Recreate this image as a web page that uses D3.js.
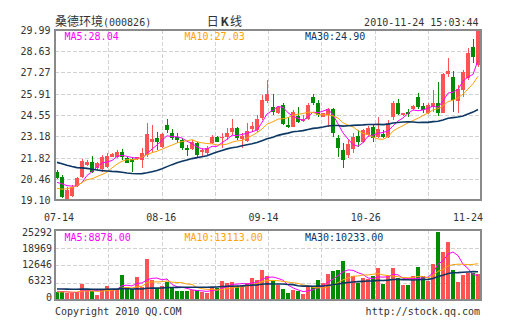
<!DOCTYPE html>
<html>
<head>
<meta charset="utf-8">
<script src="https://cdn.jsdelivr.net/npm/d3@7"></script>
<style>
  html, body { margin: 0; padding: 0; background: #fff; }
  svg { display: block; }
  text { font-family: "DejaVu Sans Mono", "Liberation Mono", monospace; font-size: 10px; fill: #333; }
  .cjk { font-family: "Noto Sans CJK SC", "DejaVu Sans", sans-serif; font-size: 12px; }
</style>
</head>
<body>
<svg id="chart" width="505" height="330"></svg>
<script>
// Daily sessions, 07-14 .. 11-24
const opens = [
  20.92, 20.60, 19.14, 19.38, 19.98, 20.55, 21.34, 21.56, 21.13, 21.09,
  21.24, 21.88, 21.88, 22.20, 21.81, 21.71, 21.71, 21.66, 21.98, 22.84,
  23.09, 22.52, 23.90, 23.41, 23.16, 22.94, 22.45, 22.37, 22.77, 22.20,
  22.13, 22.73, 23.12, 23.09, 23.12, 23.48, 23.73, 22.99, 22.90, 23.63,
  23.58, 24.33, 25.47, 25.04, 24.65, 25.19, 23.90, 23.80, 24.50, 24.18,
  24.27, 25.68, 25.29, 24.44, 24.55, 24.91, 23.05, 22.30, 21.98, 22.35,
  23.20, 22.84, 23.26, 23.76, 23.16, 23.31, 23.16, 24.44, 25.34, 24.55,
  24.72, 24.91, 25.68, 25.12, 24.70, 25.04, 25.34, 24.70, 27.15, 26.96,
  25.47, 26.15, 26.89, 28.92, 27.75
];
const highs = [
  21.02, 20.70, 19.95, 20.06, 20.55, 21.70, 21.64, 21.92, 21.56, 21.98,
  22.09, 22.09, 22.30, 22.35, 21.88, 21.83, 21.88, 22.41, 24.01, 23.90,
  23.48, 23.40, 24.29, 23.65, 23.37, 23.05, 22.62, 22.94, 22.84, 22.41,
  22.56, 23.26, 23.20, 23.37, 23.69, 24.27, 23.80, 23.37, 24.05, 24.12,
  24.55, 25.83, 26.79, 25.89, 25.10, 25.29, 24.44, 24.87, 25.04, 24.55,
  25.29, 25.89, 25.51, 24.70, 24.97, 24.97, 23.26, 22.73, 22.94, 23.37,
  23.58, 23.63, 23.84, 23.90, 24.44, 23.58, 24.22, 25.47, 25.55, 24.70,
  24.91, 25.17, 25.93, 25.29, 25.29, 26.15, 26.68, 27.21, 28.17, 27.36,
  26.47, 27.43, 28.81, 29.41, 29.99
];
const lows = [
  20.43, 19.21, 19.10, 19.31, 19.93, 20.49, 21.25, 20.81, 21.05, 20.92,
  21.13, 21.83, 21.77, 21.66, 21.45, 20.92, 21.66, 21.13, 21.88, 22.20,
  22.30, 22.45, 23.37, 22.94, 22.73, 22.30, 21.94, 22.30, 21.88, 21.88,
  21.92, 22.69, 22.79, 22.41, 22.94, 23.26, 22.94, 22.41, 22.84, 23.48,
  23.48, 24.22, 25.29, 24.55, 24.60, 23.91, 23.69, 23.75, 24.01, 24.12,
  24.22, 25.19, 24.44, 24.40, 23.80, 23.16, 21.88, 21.13, 21.77, 22.09,
  22.52, 22.73, 23.16, 22.84, 23.05, 23.05, 23.05, 24.22, 24.55, 24.50,
  24.44, 24.87, 24.91, 24.70, 24.61, 24.76, 24.48, 24.65, 27.00, 24.72,
  24.65, 25.72, 26.79, 27.85, 27.64
];
const closes = [
  20.49, 19.31, 19.74, 19.95, 20.49, 21.62, 21.56, 20.92, 21.45, 21.83,
  21.92, 22.03, 22.20, 21.83, 21.49, 21.56, 21.83, 22.13, 23.33, 22.99,
  22.84, 23.33, 23.58, 23.05, 22.94, 22.45, 22.30, 22.84, 21.98, 22.30,
  22.41, 23.16, 22.84, 23.14, 23.37, 23.73, 23.05, 23.20, 23.52, 23.84,
  24.29, 25.51, 25.89, 24.76, 25.04, 23.95, 23.80, 24.76, 24.12, 24.29,
  25.19, 25.29, 24.55, 24.65, 24.91, 23.36, 22.41, 21.66, 22.69, 23.12,
  22.84, 23.58, 23.69, 23.05, 23.68, 23.16, 24.01, 25.34, 24.61, 24.66,
  24.61, 25.12, 25.08, 24.87, 25.19, 25.34, 24.65, 27.17, 27.38, 25.51,
  26.19, 27.32, 28.49, 28.23, 29.99
];
const volumes = [
  2750, 3100, 2400, 2400, 2750, 5860, 3700, 3100, 1930, 3950,
  5150, 3950, 3950, 9070, 4550, 3950, 8360, 4800, 14790, 7290,
  4430, 5150, 6340, 4800, 3360, 3360, 3120, 3700, 3600, 2760,
  2400, 4800, 4190, 6930, 5980, 6340, 5150, 5380, 5980, 7880,
  7170, 10980, 8720, 6810, 5380, 3830, 2400, 3480, 3240, 2290,
  4910, 4550, 7290, 6100, 9310, 10410, 11010, 13990, 9580, 8630,
  6010, 8030, 7440, 8630, 11610, 5660, 8630, 11610, 8030, 5310,
  5310, 8630, 11850, 8630, 6860, 12950, 24610, 17470, 21040, 10670,
  6500, 9000, 9830, 9830, 9230
];
// Sessions before 07-14 that seed the moving averages (not drawn as bars)
const earlierCloses = [
  22.10, 22.50, 22.30, 22.60, 22.20, 22.50, 22.46, 22.90, 23.10, 22.70,
  22.80, 22.60, 23.00, 22.90, 22.50, 22.34, 22.00, 21.60, 21.00, 20.70,
  19.90, 19.40, 19.20, 19.50, 19.35, 19.80, 20.30, 20.10, 20.46
];
const earlierVolumes = [
  3900, 3500, 4200, 3300, 3800, 3600, 4100, 3400, 3700, 3900,
  3300, 3500, 3800, 5600, 6800, 7400, 5900, 6300, 5500, 5500,
  2900, 2500, 3100, 2400, 2600, 3300, 2900, 3400, 3150
];
const priceTicks = ["19.10", "20.46", "21.82", "23.18", "24.55", "25.91", "27.27", "28.63", "29.99"];
const volumeTicks = [0, 6323, 12646, 18969, 25292];
const dateLabels = ["07-14", "08-16", "09-14", "10-26", "11-24"];
const maPeriods = [5, 10, 30];
const maColors = ["#ff00ff", "#ffa20a", "#0c3764"];

const stockName = "桑德环境";
const stockCode = "(000826)";
const chartKind = ["日", "K", "线"];
const stamp = "2010-11-24 15:03:44";

const svg = d3.select("#chart");
const plot = { left: 55, right: 481, top: 30, bottom: 200 };
const vol = { top: 230, bottom: 300 };
const up = "#ff5252", down = "#008c00";
const n = closes.length;

const x = d3.scaleBand().domain(d3.range(n)).range([plot.left, plot.right]);
const y = d3.scaleLinear().domain([+priceTicks[0], +priceTicks[priceTicks.length - 1]]).range([plot.bottom, plot.top]);
const vy = d3.scaleLinear().domain([0, d3.max(volumeTicks)]).range([vol.bottom, vol.top]);
const vLabelY = d3.scaleLinear().domain(vy.domain()).range([vol.bottom + 0.7, vol.top + 5.5]);

const left = i => Math.round(x(i));
const center = i => left(i) + 2;

function movingAverage(earlier, values, period) {
  const all = earlier.concat(values);
  const off = earlier.length;
  return values.map((_, i) => d3.mean(all.slice(off + i - period + 1, off + i + 1)));
}

// dashed grid
function grid(top, bottom, hValues, yScale) {
  const g = svg.append("g").attr("stroke", "#d2d2d2").attr("stroke-dasharray", "4,2").attr("stroke-width", 1);
  const cols = d3.range(1, 8).map(k => Math.round(plot.left + (plot.right - plot.left) * k / 8) + 0.5);
  g.selectAll(null).data(cols).join("line")
    .attr("x1", d => d).attr("x2", d => d).attr("y1", top).attr("y2", bottom);
  g.selectAll(null).data(hValues).join("line")
    .attr("x1", plot.left).attr("x2", plot.right)
    .attr("y1", d => Math.round(yScale(d)) + 0.5).attr("y2", d => Math.round(yScale(d)) + 0.5);
}
grid(plot.top, plot.bottom, priceTicks.slice(1, -1).map(Number), y);
grid(vol.top, vol.bottom, volumeTicks.slice(1, -1), vy);

// candles
const isUp = i => closes[i] >= opens[i];
const cg = svg.append("g");
d3.range(n).forEach(i => {
  const col = isUp(i) ? up : down;
  const yh = Math.round(y(highs[i])), yl = Math.round(y(lows[i]));
  cg.append("rect").attr("x", left(i) + 2).attr("width", 1)
    .attr("y", yh).attr("height", Math.max(1, yl - yh)).attr("fill", col);
  const yt = Math.round(y(Math.max(opens[i], closes[i])));
  const yb = Math.round(y(Math.min(opens[i], closes[i])));
  cg.append("rect").attr("x", left(i)).attr("width", 4)
    .attr("y", yt).attr("height", Math.max(1, yb - yt)).attr("fill", col);
});

// volume bars
svg.append("g").selectAll("rect").data(volumes).join("rect")
  .attr("x", (d, i) => left(i)).attr("width", 4)
  .attr("y", d => Math.round(vy(d)))
  .attr("height", d => vol.bottom - Math.round(vy(d)))
  .attr("fill", (d, i) => isUp(i) ? up : down);

// moving-average lines
const priceMA = maPeriods.map(p => movingAverage(earlierCloses, closes, p));
const volMA = maPeriods.map(p => movingAverage(earlierVolumes, volumes, p));
maPeriods.forEach((p, k) => {
  svg.append("path").datum(priceMA[k])
    .attr("fill", "none").attr("stroke", maColors[k]).attr("stroke-width", k === 2 ? 1.6 : 1)
    .attr("d", d3.line().x((d, i) => center(i)).y(d => y(d)));
  svg.append("path").datum(volMA[k])
    .attr("fill", "none").attr("stroke", maColors[k]).attr("stroke-width", k === 2 ? 1.6 : 1)
    .attr("d", d3.line().x((d, i) => center(i)).y(d => vy(d)));
});

// frames
[[plot.top, plot.bottom], [vol.top, vol.bottom]].forEach(([t, b]) => {
  svg.append("rect").attr("x", plot.left).attr("y", t)
    .attr("width", plot.right - plot.left).attr("height", b - t)
    .attr("fill", "none").attr("stroke", "#8a8a8a").attr("stroke-width", 2);
});

// axis labels
svg.append("g").selectAll("text").data(priceTicks).join("text")
  .attr("x", 50.5).attr("y", d => y(+d) + 4).attr("text-anchor", "end").text(d => d);
svg.append("g").selectAll("text").data(volumeTicks).join("text")
  .attr("x", 52).attr("y", d => vLabelY(d)).attr("text-anchor", "end").text(d => d);
const labelX = d3.scaleLinear().domain([0, dateLabels.length - 1]).range([59, 468]);
svg.append("g").selectAll("text").data(dateLabels).join("text")
  .attr("x", (d, i) => labelX(i)).attr("y", 221).attr("text-anchor", "middle").text(d => d);

// MA legends
const legendX = [64.5, 184.5, 305];
maPeriods.forEach((p, k) => {
  svg.append("text").attr("x", legendX[k]).attr("y", 40).style("fill", maColors[k])
    .text(`MA${p}:${priceMA[k][n - 1].toFixed(2)}`);
  svg.append("text").attr("x", legendX[k]).attr("y", 240.5).style("fill", maColors[k])
    .text(`MA${p}:${volMA[k][n - 1].toFixed(2)}`);
});

// header
const title = svg.append("text").attr("x", 55).attr("y", 25.5);
title.append("tspan").attr("class", "cjk").text(stockName);
title.append("tspan").text(stockCode);
const kind = svg.append("text").attr("class", "cjk").attr("x", 224.5).attr("y", 25.5)
  .attr("text-anchor", "middle");
kind.append("tspan").text(chartKind[0]);
kind.append("tspan").attr("dx", 1.5).style("font-weight", "bold").text(chartKind[1]);
kind.append("tspan").attr("dx", 1.5).text(chartKind[2]);
svg.append("text").attr("x", 478.5).attr("y", 26).attr("text-anchor", "end").text(stamp);

// footer
svg.append("text").attr("x", 55).attr("y", 315).text("Copyright 2010 QQ.COM");
svg.append("text").attr("x", 480).attr("y", 315).attr("text-anchor", "end").text("http://stock.qq.com");
</script>
</body>
</html>
